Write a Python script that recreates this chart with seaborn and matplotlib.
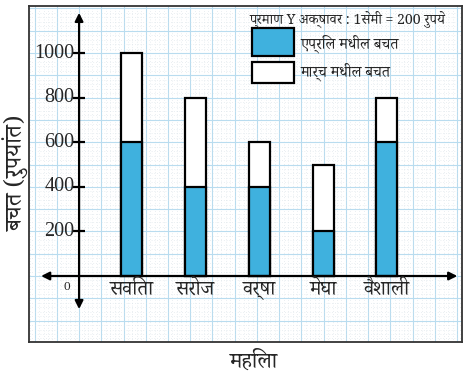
import matplotlib
matplotlib.use('Agg')
import matplotlib.pyplot as plt
from matplotlib.patches import Rectangle
from matplotlib.ticker import MultipleLocator
import seaborn as sns
import pandas as pd

#---------------------------------------------------------
names = ['सविता', 'सरोज', 'वर्षा', 'मेघा', 'वैशाली']
april = [600, 400, 400, 200, 600]
march = [400, 400, 200, 300, 200]
yticks = [200, 400, 600, 800, 1000]
ylbl = 'बचत (रुपयांत)'
xlbl = 'महिला'
scale_txt = 'प्रमाण Y अक्षावर : 1सेमी = 200 रुपये'
leg_labels = ['एप्रिल मधील बचत', 'मार्च मधील बचत']
blue = '#3fb1de'

df = pd.DataFrame({'name': names, 'april': april, 'march': march})
df['total'] = df['april'] + df['march']

#---------------------------------------------------------
sns.set_style('white')
deva = ['Noto Serif Devanagari', 'Tiro Devanagari Marathi', 'Noto Sans Devanagari', 'DejaVu Serif']
plt.rcParams['font.family'] = deva
serif = ['Liberation Serif', 'DejaVu Serif']

fig = plt.figure(figsize=(4.72, 3.76), dpi=100)
ax = fig.add_axes([29/472, 1-342/376, 433/472, 336/376])

yax = -0.83   # where the y axis crosses
# stacked bars: total (white) behind, april (blue) in front
sns.barplot(data=df, x='name', y='total', color='white', edgecolor='black',
            linewidth=1.6, width=0.33, saturation=1, ax=ax, zorder=3)
sns.barplot(data=df, x='name', y='april', color=blue, edgecolor='black',
            linewidth=1.6, width=0.33, saturation=1, ax=ax, zorder=4)

ax.set_xlim(-1.616, 5.18)
ax.set_ylim(-296, 1211)

# graph paper
ax.xaxis.set_major_locator(MultipleLocator(0.349, offset=yax))
ax.xaxis.set_minor_locator(MultipleLocator(0.0698, offset=yax))
ax.yaxis.set_major_locator(MultipleLocator(100))
ax.yaxis.set_minor_locator(MultipleLocator(20))
ax.grid(which='major', color='#b9dcef', lw=0.8, zorder=0)
ax.grid(which='minor', color='#d6e0e6', lw=0.5, ls=(0, (1, 3)), zorder=0)
ax.tick_params(which='both', length=0, labelbottom=False, labelleft=False)
ax.set_xlabel('')
ax.set_ylabel('')
for s in ax.spines.values():
    s.set_color('#333333')
    s.set_linewidth(1.3)

# axes with arrows
ax.annotate('', xy=(yax, 1193), xytext=(yax, -161),
            arrowprops=dict(arrowstyle='<|-|>', color='black', lw=1.6, mutation_scale=12), zorder=6)
ax.annotate('', xy=(5.15, 0), xytext=(-1.47, 0),
            arrowprops=dict(arrowstyle='<|-|>', color='black', lw=1.6, mutation_scale=12), zorder=6)
ax.plot([yax]*len(yticks), yticks, marker='_', ms=8, mew=1.6, color='black', ls='none', zorder=6)
for v in yticks:
    ax.text(yax - 0.07, v, str(v), ha='right', va='center', fontsize=14.5,
            family=serif, zorder=6)
ax.text(-1.02, -50, '0', ha='center', va='center', fontsize=9.5, family=serif, zorder=6)

# category names under the x axis
for i, n in enumerate(names):
    ax.text(i, -62, n, ha='center', va='center', fontsize=14.5, zorder=6)

# axis titles
fig.text(17/472, 1-173/376, ylbl, rotation=90, ha='center', va='center', fontsize=17)
fig.text(254/472, 1-362/376, xlbl, ha='center', va='center', fontsize=16)

# legend block
fig.text(250/472, 1-19/376, scale_txt, ha='left', va='center', fontsize=10.2,
         family=['Noto Serif Devanagari', 'Liberation Serif'])
fig.add_artist(Rectangle((252/472, 1-56/376), 42/472, 28/376, facecolor=blue,
                         edgecolor='black', lw=1.6, transform=fig.transFigure))
fig.add_artist(Rectangle((252/472, 1-83/376), 42/472, 21/376, facecolor='white',
                         edgecolor='black', lw=1.6, transform=fig.transFigure))
fig.text(301/472, 1-44/376, leg_labels[0], ha='left', va='center', fontsize=11)
fig.text(301/472, 1-72/376, leg_labels[1], ha='left', va='center', fontsize=11)

fig.savefig('out.png', dpi=100)
plt.close()
